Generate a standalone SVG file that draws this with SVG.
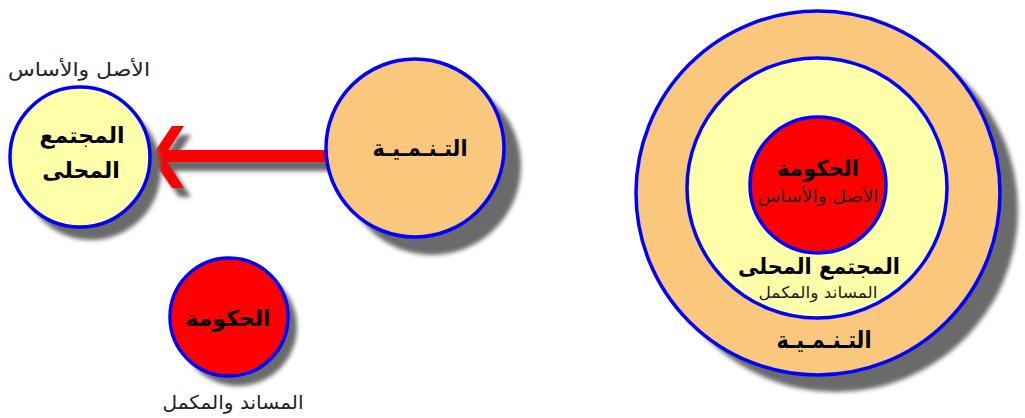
<svg xmlns="http://www.w3.org/2000/svg" width="1025" height="418" viewBox="0 0 1025 418">
<style>
.ring{stroke:#0000ff;stroke-width:3.5}
.sh{fill:#6a6a6a}
.t{font-family:"DejaVu Sans",sans-serif;text-anchor:middle;fill:#000;font-weight:bold}
.s{font-family:"DejaVu Sans",sans-serif;text-anchor:middle;fill:#222}
</style>
<defs>
<filter id="blur" x="-20%" y="-20%" width="140%" height="140%"><feGaussianBlur stdDeviation="2"/></filter>
</defs>
<rect width="1025" height="418" fill="#fff"/>
<g id="connectors">
<g filter="url(#blur)" class="sh">
<rect x="166" y="159" width="165" height="12"/>
<path d="M158,166 L179,135 L191,135 L171,166 L191,197 L179,197 Z"/>
</g>
<rect x="160" y="150" width="168" height="12" fill="#ff0000"/>
<path d="M151,157 L172,126 L184,126 L164,157 L184,188 L172,188 Z" fill="#ff0000"/>
</g>
<g id="node-community">
<circle cx="91" cy="170" r="70" class="sh" filter="url(#blur)"/>
<circle cx="80" cy="157" r="70" fill="#ffffaa" class="ring"/>
<text x="82" y="143" class="t" font-size="22">المجتمع</text>
<text x="81" y="178" class="t" font-size="22">المحلى</text>
<text x="79" y="76" class="s" font-size="19" textLength="142" lengthAdjust="spacingAndGlyphs">الأصل والأساس</text>
</g>
<g id="node-development">
<circle cx="432" cy="166" r="89" class="sh" filter="url(#blur)"/>
<circle cx="415" cy="148" r="89" fill="#fac87c" class="ring"/>
<text x="420" y="156" class="t" font-size="23" textLength="95" lengthAdjust="spacingAndGlyphs">التـنـمـيـة</text>
</g>
<g id="node-government">
<circle cx="238" cy="327" r="59" class="sh" filter="url(#blur)"/>
<circle cx="229" cy="317" r="59" fill="#ff0000" class="ring"/>
<text x="228" y="326" class="t" font-size="22">الحكومة</text>
<text x="233" y="409" class="s" font-size="19" textLength="141" lengthAdjust="spacingAndGlyphs">المساند  والمكمل</text>
</g>
<g id="node-concentric">
<circle cx="836" cy="210" r="182" class="sh" filter="url(#blur)"/>
<circle cx="818" cy="193" r="182" fill="#fac87c" class="ring"/>
<circle cx="817" cy="188" r="130" fill="#ffffaa" class="ring"/>
<circle cx="818" cy="185" r="68" fill="#ff0000" class="ring"/>
<text x="818" y="176" class="t" font-size="22" textLength="82" lengthAdjust="spacingAndGlyphs">الحكومة</text>
<text x="818" y="202" class="s" font-size="17" textLength="121" lengthAdjust="spacingAndGlyphs">الأصل والأساس</text>
<text x="819" y="274" class="t" font-size="22" textLength="162" lengthAdjust="spacingAndGlyphs">المجتمع  المحلى</text>
<text x="818" y="298" class="s" font-size="16" textLength="119" lengthAdjust="spacingAndGlyphs">المساند  والمكمل</text>
<text x="824" y="348" class="t" font-size="24" textLength="95" lengthAdjust="spacingAndGlyphs">التـنـمـيـة</text>
</g>
</svg>
